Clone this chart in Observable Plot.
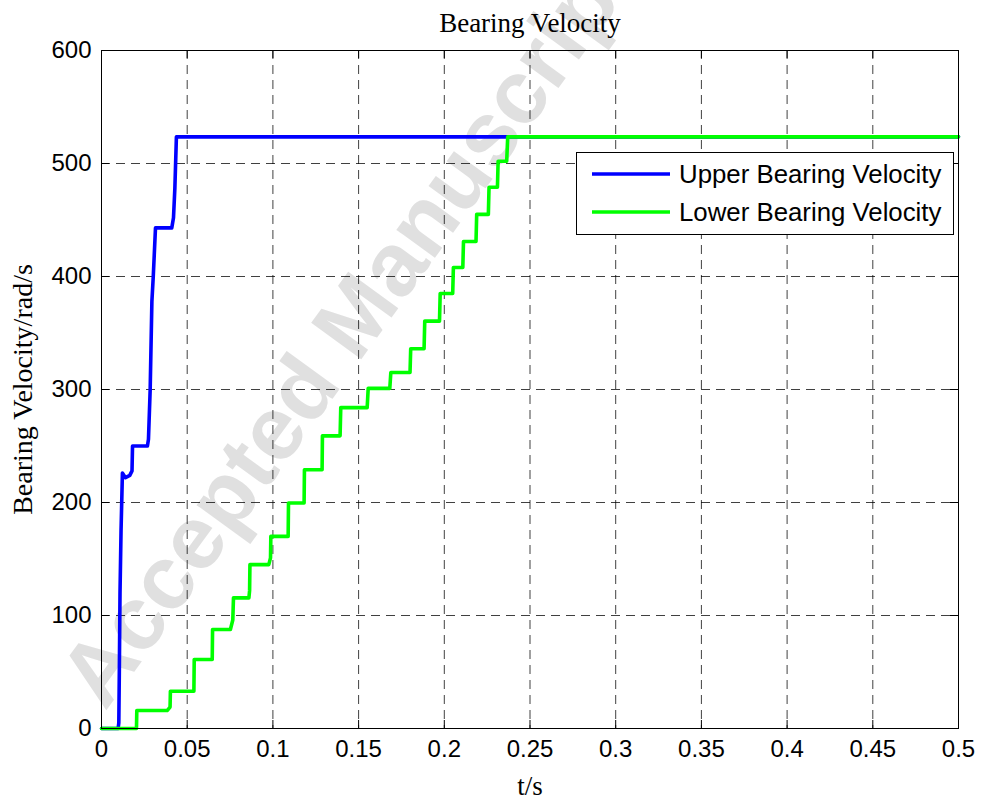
<!DOCTYPE html>
<html>
<head>
<meta charset="utf-8">
<script src="https://cdn.jsdelivr.net/npm/d3@7"></script>
<script src="https://cdn.jsdelivr.net/npm/@observablehq/plot@0.6"></script>
<style>
  body { margin: 0; background: #fff; }
  #wrap { position: relative; width: 982px; height: 801px; overflow: hidden; }
  #wrap svg.legend { position: absolute; left: 0; top: 0; }
</style>
</head>
<body>
<div id="wrap"></div>
<script>
// ---- text ----
const titleText = "Bearing Velocity";
const xLabel = "t/s";
const yLabel = "Bearing Velocity/rad/s";
const seriesNames = ["Upper Bearing Velocity", "Lower Bearing Velocity"];
const seriesColors = ["#0000ff", "#00ff00"];
const watermarkText = "Accepted Manuscript";

// ---- ticks ----
const xTicks = [0, 0.05, 0.1, 0.15, 0.2, 0.25, 0.3, 0.35, 0.4, 0.45, 0.5];
const xTickLabels = ["0", "0.05", "0.1", "0.15", "0.2", "0.25", "0.3", "0.35", "0.4", "0.45", "0.5"];
const yTicks = [0, 100, 200, 300, 400, 500, 600];
const yTickLabels = ["0", "100", "200", "300", "400", "500", "600"];

// ---- series ----
const upperT = [0, 0.0097, 0.0101, 0.0104, 0.0108, 0.0114, 0.0122, 0.0140, 0.0165, 0.0178, 0.0181,
                0.0268, 0.0274, 0.0284, 0.0294, 0.0302, 0.0315, 0.0410, 0.0420, 0.0428, 0.0437, 0.5];
const upperV = [0, 0, 5, 50, 120, 175, 226, 222, 224, 228, 250,
                250, 256, 300, 378, 400, 443, 443, 452, 478, 523.6, 523.6];

const lowerT = [0, 0.0204, 0.0206, 0.0383, 0.0400, 0.0402, 0.0539, 0.0541, 0.0646, 0.0648,
                0.0752, 0.0766, 0.0770, 0.0860, 0.0864, 0.0866, 0.0976, 0.0986, 0.0988, 0.1089, 0.1091,
                0.1182, 0.1184, 0.1287, 0.1289, 0.1392, 0.1396, 0.1550, 0.1556, 0.1682, 0.1688,
                0.1800, 0.1804, 0.1882, 0.1886, 0.1972, 0.1976, 0.2049, 0.2053, 0.2108, 0.2112,
                0.2185, 0.2189, 0.2257, 0.2261, 0.2310, 0.2314, 0.2364, 0.2370, 0.5];
const lowerV = [0, 0, 15.9, 15.9, 19, 33, 33, 61, 61, 87.6,
                87.6, 96, 115.6, 115.6, 122, 145, 145, 151, 170, 170, 199.5,
                199.5, 229, 229, 259, 259, 284, 284, 301, 301, 315,
                315, 336, 336, 360.5, 360.5, 385, 385, 408, 408, 431,
                431, 455, 455, 479, 479, 502, 502, 523.6, 523.6];

const upper = upperT.map((t, i) => ({t, v: upperV[i]}));
const lower = lowerT.map((t, i) => ({t, v: lowerV[i]}));

// ---- layout ----
const W = 982, H = 801;
const mL = 101, mR = 24, mT = 50, mB = 73;
const innerW = W - mL - mR, innerH = H - mT - mB;
const sans = "'Liberation Sans', Arial, Helvetica, sans-serif";
const serif = "'Liberation Serif', 'Times New Roman', serif";
const tickLen = 8;

const chart = Plot.plot({
  width: W, height: H,
  marginLeft: mL, marginRight: mR, marginTop: mT, marginBottom: mB,
  style: {background: "transparent", overflow: "visible", fontFamily: sans},
  x: {domain: [0, 0.5]},
  y: {domain: [0, 600]},
  marks: [
    Plot.gridX(xTicks, {stroke: "#000", strokeOpacity: 0.75, strokeWidth: 1, strokeDasharray: "9,6"}),
    Plot.gridY(yTicks, {stroke: "#000", strokeOpacity: 0.75, strokeWidth: 1, strokeDasharray: "9,6"}),
    // inward tick marks on all four sides
    Plot.tickX(xTicks, {x: d => d, insetTop: innerH - tickLen, stroke: "#000"}),
    Plot.tickX(xTicks, {x: d => d, insetBottom: innerH - tickLen, stroke: "#000"}),
    Plot.tickY(yTicks, {y: d => d, insetRight: innerW - tickLen, stroke: "#000"}),
    Plot.tickY(yTicks, {y: d => d, insetLeft: innerW - tickLen, stroke: "#000"}),
    Plot.axisX({ticks: xTicks, tickSize: 0, tickPadding: 11, fontSize: 24, fontFamily: sans,
      tickFormat: d => xTickLabels[xTicks.indexOf(d)], label: null}),
    Plot.axisY({ticks: yTicks, tickSize: 0, tickPadding: 10, fontSize: 24, fontFamily: sans,
      tickFormat: d => yTickLabels[yTicks.indexOf(d)], label: null}),
    Plot.line(upper, {x: "t", y: "v", stroke: seriesColors[0], strokeWidth: 3.6, strokeLinejoin: "round"}),
    Plot.line(lower, {x: "t", y: "v", stroke: seriesColors[1], strokeWidth: 3.6, strokeLinejoin: "round"}),
    Plot.frame({stroke: "#000", strokeWidth: 1}),
    Plot.text([titleText], {frameAnchor: "top", text: d => d, dy: -27, lineAnchor: "middle",
      fontSize: 27, fontFamily: serif, fill: "#000"}),
    Plot.text([xLabel], {frameAnchor: "bottom", text: d => d, dy: 58, lineAnchor: "middle",
      fontSize: 27, fontFamily: serif, fill: "#000"}),
    Plot.text([yLabel], {frameAnchor: "left", text: d => d, rotate: -90, dx: -78, lineAnchor: "middle",
      textAnchor: "middle", fontSize: 28, fontFamily: serif, fill: "#000"})
  ]
});

// watermark behind everything
const svg = d3.select(chart);
const wmX = 105, wmY = 712;
svg.insert("text", ":first-child")
  .attr("x", wmX).attr("y", wmY)
  .attr("text-anchor", "start")
  .attr("transform", `rotate(-54, ${wmX}, ${wmY})`)
  .attr("font-family", sans).attr("font-weight", "bold").attr("font-size", 90)
  .attr("fill", "#e0e0e0")
  .text(watermarkText);
svg.insert("rect", ":first-child").attr("width", W).attr("height", H).attr("fill", "#fff");

const wrap = document.getElementById("wrap");
wrap.appendChild(chart);

// legend
const lg = d3.create("svg").attr("class", "legend").attr("width", W).attr("height", H);
const bx = 576.5, by = 152.5, bw = 377, bh = 82;
lg.append("rect").attr("x", bx).attr("y", by).attr("width", bw).attr("height", bh)
  .attr("fill", "#fff").attr("stroke", "#000").attr("stroke-width", 1);
seriesNames.forEach((name, i) => {
  const cy = 174 + i * 38;
  lg.append("line").attr("x1", 592).attr("x2", 670).attr("y1", cy).attr("y2", cy)
    .attr("stroke", seriesColors[i]).attr("stroke-width", 3.6);
  lg.append("text").attr("x", 679).attr("y", cy + 9)
    .attr("font-family", sans).attr("font-size", 25.8).attr("fill", "#000").text(name);
});
wrap.appendChild(lg.node());
</script>
</body>
</html>
